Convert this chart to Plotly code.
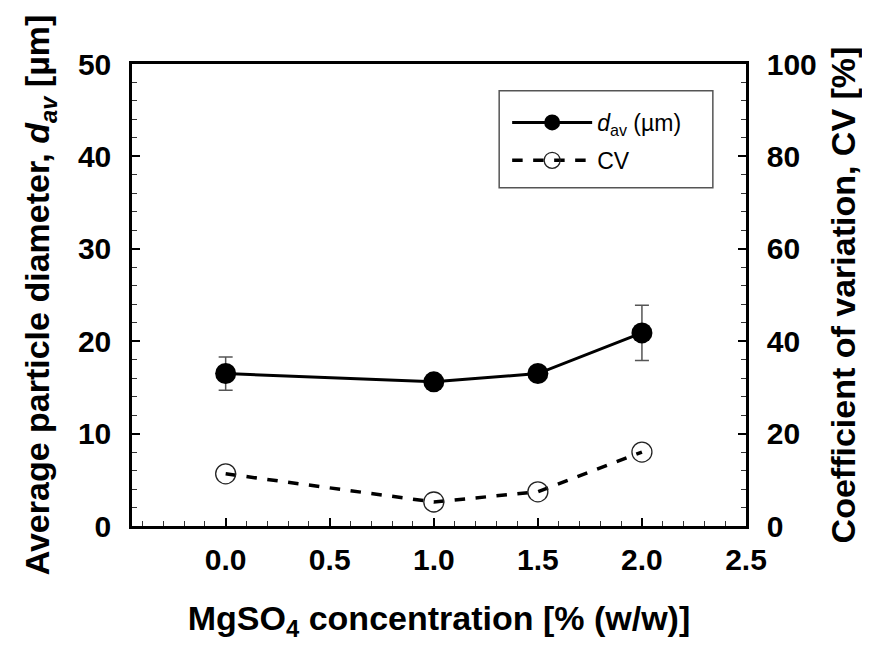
import plotly.graph_objects as go

conc = [0.0, 1.0, 1.5, 2.0]
d_av = [16.5, 15.6, 16.5, 20.9]
d_err = [1.8, 0.0, 0.0, 3.0]
cv = [11.3, 5.2, 7.4, 16.0]

FONT = "Liberation Sans, Arial, sans-serif"
TICKF = dict(size=30, family=FONT, weight="bold")

fig = go.Figure()
fig.add_trace(go.Scatter(
    x=conc, y=d_av, mode="lines+markers", name="<i>d</i><sub>av</sub> (µm)",
    legendgroup="a",
    line=dict(color="black", width=3),
    marker=dict(size=21, color="black", symbol="circle"),
    error_y=dict(type="data", array=d_err, visible=True, color="#555555", thickness=1.5, width=7),
))
fig.add_trace(go.Scatter(
    x=conc, y=cv, mode="lines+markers", name="CV", yaxis="y2",
    legendgroup="b",
    line=dict(color="black", width=3.5, dash="dash"),
    marker=dict(size=20, color="rgba(0,0,0,0)", symbol="circle", line=dict(color="#222222", width=1.3)),
))

fig.update_layout(
    width=870, height=647,
    margin=dict(l=124, r=132, t=56, b=129),
    plot_bgcolor="white", paper_bgcolor="white",
    font=dict(family=FONT, color="black"),
    showlegend=True,
    legend=dict(x=0.611, y=0.92, xanchor="left", yanchor="top",
                borderwidth=0, bgcolor="rgba(0,0,0,0)",
                font=dict(size=23, family=FONT), itemwidth=80,
                tracegroupgap=5),
    shapes=[dict(type="rect", xref="paper", yref="paper", x0=0.598, x1=0.946, y0=0.732, y1=0.942,
                 line=dict(color="#555555", width=1.5), layer="above")],
    xaxis=dict(range=[-0.45, 2.5], tickvals=[0, 0.5, 1.0, 1.5, 2.0, 2.5],
               ticktext=["0.0", "0.5", "1.0", "1.5", "2.0", "2.5"],
               showline=True, linecolor="black", linewidth=2.5, mirror=True,
               ticks="inside", ticklen=8, tickwidth=1.5, tickcolor="black",
               minor=dict(dtick=0.1, tick0=0, ticks="inside", ticklen=5, tickwidth=1, tickcolor="#333333"),
               showgrid=False, zeroline=False, ticklabelstandoff=5,
               tickfont=TICKF,
               title=dict(text="MgSO<sub>4</sub> concentration [% (w/w)]",
                          font=dict(size=34, family=FONT, weight="bold"), standoff=32)),
    yaxis=dict(range=[0, 50], dtick=10, showline=True, linecolor="black", linewidth=2.5,
               ticks="inside", ticklen=8, tickwidth=1.5, tickcolor="black",
               minor=dict(dtick=2, ticks="inside", ticklen=5, tickwidth=1, tickcolor="#333333"),
               showgrid=False, zeroline=False, ticklabelstandoff=12,
               tickfont=TICKF,
               title=dict(text="Average particle diameter, <i>d<sub>av</sub></i> [µm]",
                          font=dict(size=34, family=FONT, weight="bold"), standoff=18)),
    yaxis2=dict(range=[0, 100], dtick=20, overlaying="y", side="right",
                showline=True, linecolor="black", linewidth=2.5,
                ticks="inside", ticklen=8, tickwidth=1.5, tickcolor="black",
                minor=dict(dtick=4, ticks="inside", ticklen=5, tickwidth=1, tickcolor="#333333"),
                showgrid=False, zeroline=False, ticklabelstandoff=12,
                tickfont=TICKF,
                title=dict(text="Coefficient of variation, CV [%]",
                           font=dict(size=34, family=FONT, weight="bold"), standoff=16)),
)

fig.write_html("out.html")
